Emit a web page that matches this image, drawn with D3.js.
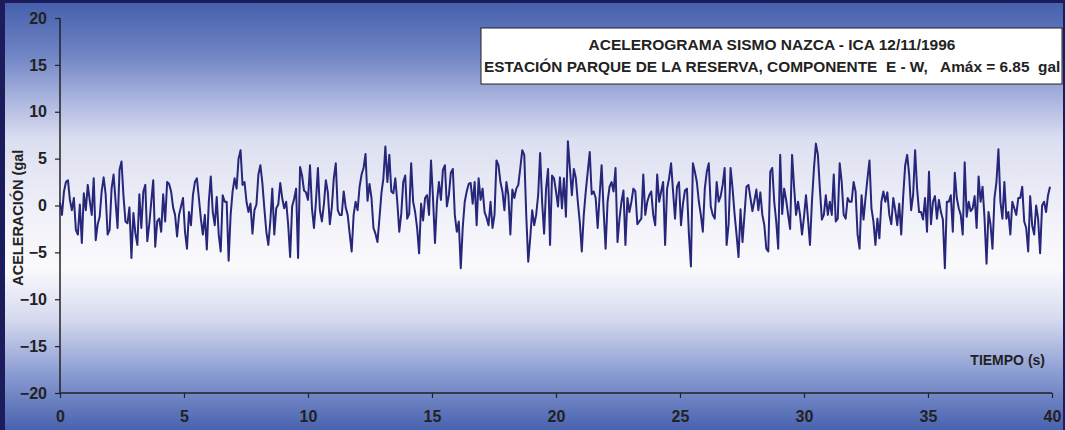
<!DOCTYPE html>
<html>
<head>
<meta charset="utf-8">
<script src="https://cdn.jsdelivr.net/npm/d3@7"></script>
<style>
  html, body { margin: 0; padding: 0; background: #1c1c5c; }
  svg { display: block; font-family: Arial, "Liberation Sans", sans-serif; }
</style>
</head>
<body>
<svg id="chart" width="1065" height="430"></svg>
<script>
// Acelerograma, componente E-W — muestras cada 0.08 s (gal)
const sampleStep = 0.08;
const accel = [
  0.3, -1.0, 1.5, 2.5, 2.7, 0.6, -0.5, 0.8, -2.6, -3.1,
  0.1, -4.0, 1.3, -0.5, 2.2, 0.5, -1.0, 2.9, -3.7, -2.0,
  -1.2, 1.5, 3.0, 1.2, -3.1, -2.6, 1.8, 3.3, 0.5, -2.4,
  3.8, 4.7, 1.0, -1.7, -1.9, -0.2, -5.6, -0.8, -3.0, -4.2,
  1.2, -2.4, 1.5, 2.2, -3.8, -2.0, 0.4, 2.7, -4.4, -1.7,
  -1.4, -2.8, 1.2, -1.7, 2.5, 2.3, 1.5, -0.2,
  -1.0, -3.3, -1.0, -0.1, 0.8, -2.8, -4.6, -0.7, -2.1, 1.1,
  2.5, 2.9, 0.8, -1.4, -3.1, -1.0, -4.7, 0.4, 3.1, -0.7,
  -2.1, 0.9, -3.1, -4.9, 1.1, 0.4, 0.4, -5.9, -1.0, 1.5,
  2.9, 1.8, 5.0, 5.9, 2.2, 2.5, 0.4, -0.7, 0.2, -3.0,
  -0.5, 0.1, 3.3, 4.3, 2.4, -0.3, -2.8, -4.2, -1.7, 1.8,
  -3.1, -0.3, 0.1, 2.4, 0.8,
  -0.3, 0.4, -2.0, -5.5, -0.1, 0.7, 1.8, -5.6, 4.1, 3.2,
  1.6, 1.4, 0.6, 4.3, -0.3, -2.4, 0.4, 4.0, -0.5, -1.7,
  0.1, 2.7, 1.4, -2.0, -0.2, 2.9, 4.5, -0.5, -1.0, -1.0,
  1.5, -0.2, -1.0, -3.0, -4.9, -1.0, 0.4, -0.5, 2.0, 3.3,
  4.0, 5.5, 0.5, 2.3, 0.8, -2.4, -3.0, -3.9, -1.4, 1.3,
  2.9, 6.3, 2.5, 5.4, 1.5,
  1.3, 2.9, 0.4, -2.8, -0.9, 2.5, 3.2, -1.4, -0.9, 4.5,
  0.4, -0.7, -2.4, -5.1, 0.2, -1.6, 0.8, 1.1, -1.0, 4.8,
  0.8, -4.0, 0.4, 2.5, 0.6, 3.8, 4.3, -0.1, 1.1, 3.5,
  3.9, -1.0, -2.8, -1.7, -6.7, -2.3, 0.4, 1.5, 2.3, 2.4,
  0.2, 2.5, -2.1, 2.9, 0.6, 1.8, -0.7, -1.3, -2.1, 0.4,
  -2.4, -1.0, 4.8, 4.3, 2.5,
  1.5, -0.5, 2.5, 1.1, -3.1, 1.7, 0.8, 1.8, 2.2, 4.0,
  5.9, 5.4, -1.0, -6.0, -3.5, -0.5, -2.1, -1.0, 1.1, 5.6,
  0.4, -3.0, 1.8, 3.9, -4.2, 3.2, 2.9, 1.5, -0.1, 3.0,
  -0.3, 2.9, -1.2, 6.85, 4.0, 1.1, 3.9, 2.9, 0.4, -1.8,
  -4.9, -1.0, 1.5, 3.6, 5.7, 1.2, 1.5, 0.8, -2.4, 1.1,
  4.3, -0.5, -4.6, 0.4, 2.0, 2.5,
  1.5, 4.0, -3.9, -1.4, 0.4, 1.6, -4.2, 0.8, -0.7, 0.4,
  1.8, 1.5, -2.0, -1.7, -1.4, 3.3, -1.0, 0.4, 1.1, 1.5,
  -1.0, -2.1, 3.3, 0.4, 1.5, 2.5, -4.2, 1.8, 2.9, 4.5,
  1.5, -1.4, 2.0, 2.5, -2.1, 0.2, 1.6, 1.8, -3.1, -6.5,
  4.5, 3.6, 2.5, 0.4, -1.0, -2.8, 1.8, 3.6, 4.5, -0.1,
  -1.0, -1.4, 2.5, 0.4, 1.0,
  2.2, 4.0, -4.2, -2.0, 4.0, 1.8, -0.9, -3.1, -5.5, -0.4,
  -3.9, -1.0, 2.0, 2.2, 0.8, -0.6, 0.5, 1.7, -0.5, 1.4,
  -1.0, -2.1, -4.6, -4.9, 3.6, 4.0, 0.4, -1.7, -4.6, 5.4,
  -0.9, 1.8, 0.6, -1.0, -2.5, 5.4, 2.0, -1.0, 0.4, -1.0,
  -3.1, -1.2, 1.1, -1.4, -4.2, 0.4, 3.9, 6.6, 5.4, 1.8,
  -1.5, -1.0, 1.1, -1.0, 0.4,
  -1.0, 3.3, -1.7, -1.4, 4.5, 2.5, -1.0, -1.4, 0.8, 0.4,
  0.4, 2.5, 1.5, -3.1, -4.6, 1.1, -1.5, 0.8, 2.9, 4.8,
  -0.3, -1.7, -4.2, -1.4, -3.5, 0.4, 1.5, 0.4, 1.4, -1.0,
  -2.0, 0.8, -0.5, -2.1, 0.2, -3.1, 1.0, 4.3, 5.4, 3.3,
  -0.5, 1.1, 5.9, 1.8, -0.7, -0.7, -1.5, 0.8, -2.8, 3.6,
  -2.0, 0.4, 1.0, -1.4, 0.6, -0.7,
  -1.5, -6.7, 0.4, 0.4, 1.1, -2.8, 3.5, 0.8, -0.3, -1.0,
  -3.1, 4.6, -1.2, 0.4, -0.6, -0.3, 1.0, -2.4, 3.1, 0.4,
  2.0, -1.4, -6.2, -0.7, -2.0, -4.6, 0.8, 2.5, 6.0, 0.4,
  -1.4, 2.5, -1.4, -0.7, -3.1, 0.4, -0.3, -1.0, 0.8, 0.8,
  2.0, -1.7, -2.4, -4.9, 1.0, -2.1, -3.1, 0.0, -1.4, -5.1,
  0.0, 0.4, -0.7, 1.1, 2.0
];

const xTicks = [0, 5, 10, 15, 20, 25, 30, 35, 40];
const yTicks = [-20, -15, -10, -5, 0, 5, 10, 15, 20];
const titleLines = [
  "ACELEROGRAMA SISMO NAZCA - ICA 12/11/1996",
  "ESTACIÓN PARQUE DE LA RESERVA, COMPONENTE  E - W,   Amáx = 6.85  gal"
];
const yTitle = "ACELERACIÓN (gal";
const xTitle = "TIEMPO (s)";

const W = 1065, H = 430;
const svg = d3.select("#chart");

// fondo degradado azul - blanco - azul
const defs = svg.append("defs");
const grad = defs.append("linearGradient")
  .attr("id", "bg").attr("x1", 0).attr("y1", 0).attr("x2", 0).attr("y2", 1);
[
  [0.00, "#4660ad"], [0.12, "#6f84c4"], [0.24, "#b2bbe2"], [0.32, "#dcdff0"],
  [0.50, "#f1f1f9"], [0.62, "#fafafd"], [0.74, "#d6daef"], [0.87, "#8a9bd2"],
  [1.00, "#4862ae"]
].forEach(([o, c]) => grad.append("stop").attr("offset", o).attr("stop-color", c));

svg.append("rect").attr("x", 0).attr("y", 0).attr("width", W).attr("height", H)
  .attr("fill", "#1c1c5c");
svg.append("rect").attr("x", 5).attr("y", 3).attr("width", W - 7).attr("height", H - 3)
  .attr("fill", "url(#bg)");

const x = d3.scaleLinear().domain([0, 40]).range([60, 1052]);
const y = d3.scaleLinear().domain([-20, 20]).range([393, 18]);

// ejes
const axisColor = "#222";
const gy = svg.append("g").attr("transform", `translate(${x(0)},0)`)
  .call(d3.axisLeft(y).tickValues(yTicks).tickSize(5).tickPadding(8).tickFormat(d3.format("d")));
const gx = svg.append("g").attr("transform", `translate(0,${y(-20)})`)
  .call(d3.axisBottom(x).tickValues(xTicks).tickSize(5).tickPadding(13).tickFormat(d3.format("d")));
[gx, gy].forEach(g => {
  g.select(".domain").attr("stroke", axisColor).attr("stroke-width", 1.5);
  g.selectAll(".tick line").attr("stroke", axisColor).attr("stroke-width", 1.2);
  g.selectAll(".tick text").attr("fill", "#222").attr("font-size", 16)
    .attr("font-weight", "bold").attr("font-family", "Arial, 'Liberation Sans', sans-serif");
});
gy.select(".domain").attr("d", `M0,${y(20)}V${y(-20)}`);
gx.select(".domain").attr("d", `M${x(0)},0H${x(40)}`);

// señal
const line = d3.line()
  .x((d, i) => x(i * sampleStep))
  .y(d => y(d));
svg.append("path").datum(accel)
  .attr("d", line)
  .attr("fill", "none")
  .attr("stroke", "#26267a")
  .attr("stroke-width", 2)
  .attr("stroke-linejoin", "round");

// títulos de ejes
svg.append("text")
  .attr("transform", `translate(23,${y(-1.3)}) rotate(-90)`)
  .attr("text-anchor", "middle")
  .attr("font-size", 14.5).attr("font-weight", "bold").attr("fill", "#222")
  .text(yTitle);
svg.append("text")
  .attr("x", 1045).attr("y", 365)
  .attr("text-anchor", "end")
  .attr("font-size", 14).attr("font-weight", "bold").attr("fill", "#222")
  .text(xTitle);

// recuadro de título
svg.append("rect").attr("x", 481).attr("y", 28).attr("width", 581).attr("height", 56)
  .attr("fill", "#fff").attr("stroke", "#222").attr("stroke-width", 1);
svg.append("text").attr("x", 772).attr("y", 50)
  .attr("text-anchor", "middle")
  .attr("font-size", 15.5).attr("font-weight", "bold").attr("fill", "#222")
  .style("white-space", "pre")
  .text(titleLines[0]);
svg.append("text").attr("x", 484).attr("y", 71.5)
  .attr("font-size", 15.4).attr("font-weight", "bold").attr("fill", "#222")
  .style("white-space", "pre")
  .text(titleLines[1]);
</script>
</body>
</html>
